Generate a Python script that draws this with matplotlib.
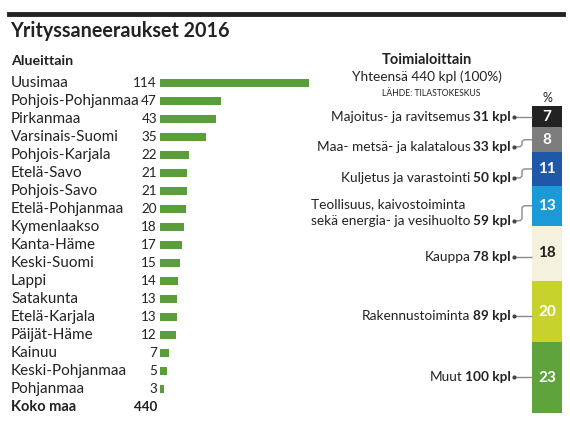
import matplotlib
matplotlib.use("Agg")
import matplotlib.pyplot as plt
import matplotlib.transforms as mtransforms
from matplotlib.path import Path
from matplotlib.patches import PathPatch
import numpy as np

plt.rcParams['font.family'] = ['Lato', 'DejaVu Sans']

# ---- data ----
regions = ["Uusimaa", "Pohjois-Pohjanmaa", "Pirkanmaa", "Varsinais-Suomi", "Pohjois-Karjala",
           "Etelä-Savo", "Pohjois-Savo", "Etelä-Pohjanmaa", "Kymenlaakso", "Kanta-Häme",
           "Keski-Suomi", "Lappi", "Satakunta", "Etelä-Karjala", "Päijät-Häme", "Kainuu",
           "Keski-Pohjanmaa", "Pohjanmaa"]
region_values = [114, 47, 43, 35, 22, 21, 21, 20, 18, 17, 15, 14, 13, 13, 12, 7, 5, 3]
total_label = "Koko maa"
total_value = 440

sectors = ["Majoitus- ja ravitsemus", "Maa- metsä- ja kalatalous", "Kuljetus ja varastointi",
           "Teollisuus, kaivostoiminta\nsekä energia- ja vesihuolto", "Kauppa",
           "Rakennustoiminta", "Muut"]
sector_counts = [31, 33, 50, 59, 78, 89, 100]
sector_pct = [7, 8, 11, 13, 18, 20, 23]
sector_colors = ["#222222", "#7d7d7d", "#1f58a8", "#1b9ad8", "#f4f1dc", "#c8d22c", "#5ea33b"]
sector_text_colors = ["white", "white", "white", "white", "#222222", "white", "white"]
# label offsets from segment centre (pixels, layout only)
label_offsets_px = [0, 7, 9, 15, 3.5, 4, -1]

W, H = 570, 428
fig = plt.figure(figsize=(W / 100, H / 100), dpi=100)
fig.patch.set_facecolor("white")

def fx(px):
    return px / W

def fy(py):
    return 1 - py / H

TXT = "#222222"
BAR_GREEN = "#5a9e3b"
LFS = 11.0   # left labels
NFS = 9.7    # left numbers
RFS = 9.8    # right labels

# top rule and title
fig.add_artist(plt.Line2D([fx(9), fx(563)], [fy(14), fy(14)], color="#222222", lw=3.5))
fig.text(fx(10), fy(31), "Yrityssaneeraukset 2016", fontsize=14.2, fontweight="bold",
         color=TXT, va="center", ha="left")
fig.text(fx(11), fy(61), "Alueittain", fontsize=10.3, fontweight="bold", color=TXT,
         va="center", ha="left")

# ---- left bar chart ----
n = len(regions)
ax = fig.add_axes([fx(160), fy(416), fx(309) - fx(160), (416 - 74) / H])
ypos = np.arange(n)
ax.barh(ypos, region_values, height=0.4, color=BAR_GREEN, left=0)
ax.set_xlim(0, max(region_values))
ax.set_ylim(n + 0.5, -0.5)
ax.axis("off")

tr_name = mtransforms.blended_transform_factory(fig.transFigure, ax.transData)
for i, (name, v) in enumerate(zip(regions, region_values)):
    ax.text(fx(11), i, name, transform=tr_name, fontsize=LFS, color=TXT, va="center", ha="left")
    ax.text(fx(157), i, str(v), transform=tr_name, fontsize=NFS, color=TXT, va="center", ha="right")
ax.text(fx(11), n, total_label, transform=tr_name, fontsize=10.5, fontweight="bold", color=TXT,
        va="center", ha="left")
ax.text(fx(157), n, str(total_value), transform=tr_name, fontsize=NFS, fontweight="bold",
        color=TXT, va="center", ha="right")

# ---- right panel ----
fig.text(fx(427), fy(60), "Toimialoittain", fontsize=10.5, fontweight="bold", color=TXT,
         ha="center", va="center")
fig.text(fx(427), fy(77), f"Yhteensä {total_value} kpl (100%)", fontsize=9.8, color=TXT,
         ha="center", va="center")
fig.text(fx(431), fy(93), "LÄHDE: TILASTOKESKUS", fontsize=6.2, color=TXT,
         ha="center", va="center")
fig.text(fx(547), fy(98), "%", fontsize=9, color=TXT, ha="center", va="center")

ax2 = fig.add_axes([fx(532), fy(413), fx(562) - fx(532), (413 - 106) / H])
bottoms = np.concatenate([[0], np.cumsum(sector_pct)[:-1]])
ax2.bar([0] * len(sector_pct), sector_pct, bottom=bottoms, width=1.0, color=sector_colors,
        align="center")
ax2.set_xlim(-0.5, 0.5)
ax2.set_ylim(sum(sector_pct), 0)
ax2.axis("off")

for i, (p, b, tc) in enumerate(zip(sector_pct, bottoms, sector_text_colors)):
    ax2.text(0, b + p / 2, str(p), fontsize=11, fontweight="bold", color=tc,
             ha="center", va="center")

# labels with leader lines (in pixel space of the figure)
fig.canvas.draw()
r = fig.canvas.get_renderer()
px_per_pct = (413 - 106) / sum(sector_pct)
for i, (name, cnt, p, b) in enumerate(zip(sectors, sector_counts, sector_pct, bottoms)):
    cy = 106 + (b + p / 2) * px_per_pct
    ly = cy + label_offsets_px[i]
    lines = name.split("\n")
    t_b = fig.text(fx(511), fy(ly), f"{cnt} kpl", fontsize=RFS, fontweight="bold", color=TXT,
                   ha="right", va="center")
    wb = t_b.get_window_extent(renderer=r).width
    t_last = fig.text(fx(511 - wb - 3), fy(ly), lines[-1], fontsize=RFS, color=TXT,
                      ha="right", va="center")
    if len(lines) > 1:
        x_left = t_last.get_window_extent(renderer=r).x0
        fig.text(x_left / W, fy(ly - 17), lines[0], fontsize=RFS, color=TXT, ha="left", va="center")
    # leader
    x0, x1 = 514, 532
    if abs(ly - cy) < 5:
        verts = [(x0, ly), (x1, ly)]
        codes = [Path.MOVETO, Path.LINETO]
    else:
        verts = [(x0, ly), (519, ly), (522, ly), (522, ly - 3),
                 (522, cy + 3), (522, cy), (525, cy), (x1, cy)]
        codes = [Path.MOVETO, Path.LINETO, Path.CURVE3, Path.CURVE3,
                 Path.LINETO, Path.CURVE3, Path.CURVE3, Path.LINETO]
    verts_fig = [(fx(x), fy(y)) for x, y in verts]
    patch = PathPatch(Path(verts_fig, codes), transform=fig.transFigure, fill=False,
                      edgecolor="#8a8a8a", lw=1.0)
    fig.add_artist(patch)
    fig.add_artist(plt.Line2D([fx(514)], [fy(ly)], marker="o", markersize=2.0,
                              color="#444444", transform=fig.transFigure))

fig.savefig("out.png", dpi=100, facecolor="white")
